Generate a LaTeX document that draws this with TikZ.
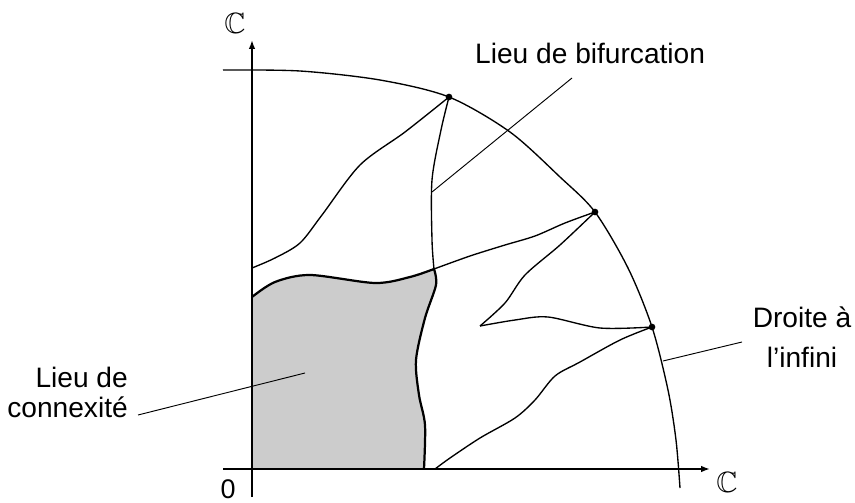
\documentclass[tikz,border=0pt]{standalone}
\usepackage{amssymb}
\usepackage{fontspec}
\setmainfont{Liberation Sans}
\usetikzlibrary{arrows.meta}
\begin{document}
\begin{tikzpicture}[x=0.03cm,y=-0.03cm,
  axisline/.style={line width=1.3pt,-{Latex[length=7.5pt,width=5.5pt]}},
  curve/.style={line width=1.15pt,line join=round},
  bound/.style={line width=1.9pt,line join=round},
  leader/.style={line width=0.8pt},
  lbl/.style={font=\fontsize{24}{28}\selectfont,inner sep=0pt},
  dot/.style={circle,fill=black,inner sep=0pt,minimum size=0.2cm},
  greyfill/.style={fill=black!20}]
\useasboundingbox (0,0) rectangle (855,503);
% grey region
\fill[greyfill] (252,469) -- plot[smooth] coordinates {(252,297) (275,282) (310,275) (375,283) (410,277) (434,269)}
  -- plot[smooth] coordinates {(434,269) (436,285) (425,318) (416,360) (419,395) (425,425) (424,469)} -- cycle;
% axes
\coordinate (ybot) at (252,497);
\coordinate (ytop) at (252,40);
\coordinate (xleft) at (223,469);
\coordinate (xright) at (710,469);
\coordinate (O) at (252,469);
\coordinate (Q) at (424,469);
\draw[axisline,line width=1.5pt] (ybot) -- (ytop);
\draw[axisline] (xleft) -- (xright);
\draw[bound] (O) -- (Q);
% line at infinity
\draw[curve] plot[smooth,tension=0.5] coordinates {(223,70) (300,71) (380,80) (449,97) (510,132) (560,177) (595,212) (628,268) (652,327) (668,390) (676,440) (680,488)};
% curves
\draw[curve] plot[smooth] coordinates {(449,97) (441,130) (432,180) (432,240) (434,269)};
\draw[curve] plot[smooth] coordinates {(434,269) (470,256) (505,245) (535,236) (565,223) (595,212)};
\draw[curve] plot[smooth] coordinates {(449,97) (405,132) (360,165) (322,215) (300,243) (275,258) (252,268)};
\draw[curve] plot[smooth] coordinates {(595,212) (560,245) (525,275) (505,303) (480,326)};
\draw[curve] plot[smooth] coordinates {(480,326) (515,320) (548,317) (600,328) (652,327)};
\draw[curve] plot[smooth] coordinates {(652,327) (620,340) (580,362) (555,376) (535,400) (515,418) (480,438) (450,458) (435,469)};
% thick boundary of the connectedness locus
\draw[bound] plot[smooth] coordinates {(252,297) (275,282) (310,275) (375,283) (410,277) (434,269)};
\draw[bound] plot[smooth] coordinates {(434,269) (436,285) (425,318) (416,360) (419,395) (425,425) (424,469)};
% dots
\node[dot] (p1) at (449,97) {};
\node[dot] (p2) at (595,212) {};
\node[dot] (p3) at (652,327) {};
% labels
\node[font=\fontsize{25}{28}\selectfont,inner sep=0pt] (cy) at (235,23) {$\mathbb{C}$};
\node[font=\fontsize{25}{28}\selectfont,inner sep=0pt] (cx) at (727,482) {$\mathbb{C}$};
\node[font=\fontsize{23}{26}\selectfont,inner sep=0pt,anchor=base] (zero) at (228,498) {0};
\node[lbl,anchor=base west] (bif) at (475,63) {Lieu de bifurcation};
\node[lbl,align=center,anchor=base] (dro) at (802,367) {Droite à\\[6pt]l'infini};
\node[lbl,align=right,anchor=base east] (con) at (128,417) {Lieu de\\[-3pt]connexité};
% leaders
\coordinate (bifA) at (572,78);
\coordinate (bifB) at (432,192);
\coordinate (droA) at (742,342);
\coordinate (droB) at (663,361);
\coordinate (conA) at (138,415);
\coordinate (conB) at (305,373);
\draw[leader] (bifA) -- (bifB);
\draw[leader] (droA) -- (droB);
\draw[leader] (conA) -- (conB);
\end{tikzpicture}
\end{document}
